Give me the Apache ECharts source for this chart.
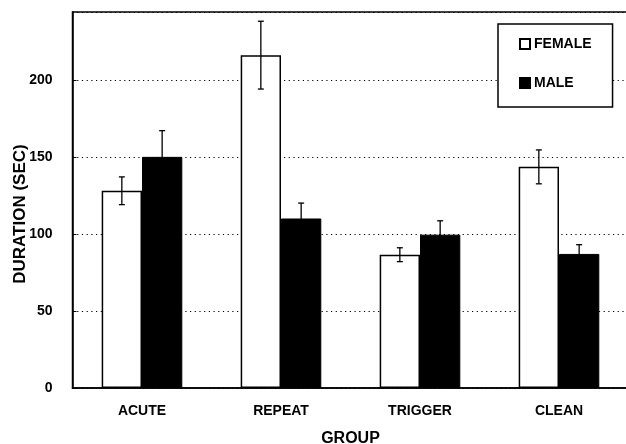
<!DOCTYPE html>
<html><head><meta charset="utf-8">
<script src="https://cdn.jsdelivr.net/npm/echarts@6/dist/echarts.min.js"></script>
<style>html,body{margin:0;padding:0;background:#fff}#c{width:626px;height:444px}</style>
</head><body><div id="c"></div>
<script>
const categories = ['ACUTE', 'REPEAT', 'TRIGGER', 'CLEAN'];
const femaleValues = [128, 216, 86.5, 143.5];
const femaleErrors = [9, 22, 4.5, 11];
const maleValues = [150, 110, 99.5, 87];
const maleErrors = [17, 10, 9, 6];
const yTicks = [0, 50, 100, 150, 200];

const chart = echarts.init(document.getElementById('c'), null, {renderer: 'canvas'});
const FONT = '"Liberation Sans", Arial, Helvetica, sans-serif';
const BAR_FRAC = 0.29;

function errSeries(name, values, errors, side) {
  return {
    type: 'custom', name: name + ' err', silent: true, z: 5,
    data: values.map((v, i) => [i, v, errors[i]]),
    renderItem: function (params, api) {
      const i = api.value(0), v = api.value(1), e = api.value(2);
      const band = api.size([1, 0])[0];
      const off = side * band * BAR_FRAC / 2;
      const top = api.coord([i, v + e]);
      const bot = api.coord([i, v - e]);
      const x = top[0] + off;
      const cap = 3;
      const st = {stroke: '#000', lineWidth: 1.3};
      return {type: 'group', children: [
        {type: 'line', shape: {x1: x, y1: top[1], x2: x, y2: bot[1]}, style: st},
        {type: 'line', shape: {x1: x - cap, y1: top[1], x2: x + cap, y2: top[1]}, style: st},
        {type: 'line', shape: {x1: x - cap, y1: bot[1], x2: x + cap, y2: bot[1]}, style: st}
      ]};
    }
  };
}

chart.setOption({
  animation: false,
  backgroundColor: '#fff',
  grid: {left: 72.5, top: 12, width: 556, height: 376, show: true, borderColor: '#000', borderWidth: 1.5,
         backgroundColor: 'transparent', containLabel: false, outerBoundsMode: 'none'},
  legend: {
    orient: 'vertical', left: 498, top: 24,
    padding: [13, 21, 17, 21], itemGap: 25,
    itemWidth: 10, itemHeight: 10, itemSymbolKeepAspect: true,
    borderColor: '#000', borderWidth: 1.5, backgroundColor: '#fff',
    textStyle: {fontFamily: FONT, fontWeight: 'bold', fontSize: 14, color: '#000', padding: [0, 0, 0, -1], lineHeight: 14},
    data: [{name: 'FEMALE', icon: 'rect'}, {name: 'MALE', icon: 'rect'}]
  },
  xAxis: {
    type: 'category', data: categories,
    axisLine: {lineStyle: {color: '#000', width: 1.5}},
    axisTick: {show: false},
    axisLabel: {color: '#000', fontFamily: FONT, fontWeight: 'bold', fontSize: 14, margin: 16},
    name: 'GROUP', nameLocation: 'middle', nameGap: 43,
    nameTextStyle: {color: '#000', fontFamily: FONT, fontWeight: 'bold', fontSize: 16}
  },
  yAxis: {
    type: 'value', min: 0, max: 244, interval: 50,
    axisLine: {show: true, lineStyle: {color: '#000', width: 1.5}},
    axisTick: {show: true, inside: true, length: 4, lineStyle: {color: '#000'}},
    axisLabel: {color: '#000', fontFamily: FONT, fontWeight: 'bold', fontSize: 14, margin: 20, showMaxLabel: false,
      formatter: v => yTicks.includes(v) ? String(v) : ''},
    splitLine: {show: true, lineStyle: {color: '#000', width: 1, type: [1.2, 3.5]}}
  },
  graphic: [{
    type: 'text', rotation: Math.PI / 2,
    x: 20, y: 214,
    style: {text: 'DURATION (SEC)', fill: '#000', font: 'bold 17px ' + FONT, align: 'center', verticalAlign: 'middle'}
  }],
  series: [
    {name: 'FEMALE', type: 'bar', data: femaleValues, barWidth: (BAR_FRAC * 100) + '%', barGap: '0%',
     itemStyle: {color: '#fff', borderColor: '#000', borderWidth: 1.5}},
    {name: 'MALE', type: 'bar', data: maleValues, barWidth: (BAR_FRAC * 100) + '%', barGap: '0%',
     itemStyle: {color: '#000', borderColor: '#000', borderWidth: 1}},
    errSeries('FEMALE', femaleValues, femaleErrors, -1),
    errSeries('MALE', maleValues, maleErrors, 1)
  ]
});
</script></body></html>
